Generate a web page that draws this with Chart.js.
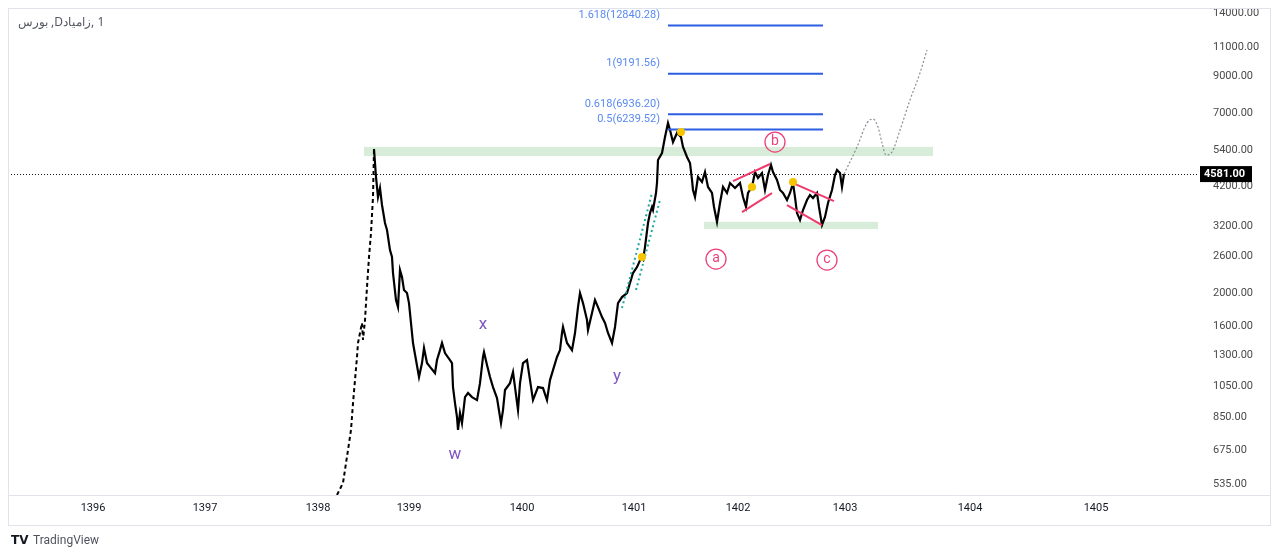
<!DOCTYPE html>
<html lang="fa">
<head>
<meta charset="UTF-8" />
<title>زامیاد 1D</title>
<script src="https://cdn.jsdelivr.net/npm/chart.js"></script>
<style>
  html, body { margin: 0; padding: 0; background: #fff; }
  canvas { display: block; }
</style>
</head>
<body>
<canvas id="chart" width="1280" height="557"></canvas>
<script>
// x = trading session counted from the left edge of the view, y = price (log scale)
const yearLabels = ['1396', '1397', '1398', '1399', '1400', '1401', '1402', '1403', '1404', '1405'];
const yearSessions = [170, 394, 620, 802, 1028, 1252, 1460, 1674, 1924, 2176];
const priceTicks = [14000, 11000, 9000, 7000, 5400, 4200, 3200, 2600, 2000, 1600, 1300, 1050, 850, 675, 535];

// limit-up run of 1398 (gappy bars)
const rallySessions = [658, 670, 680, 686, 690, 698, 700, 708, 710, 714, 718, 722, 726, 730, 732];
const rallyPrices = [495, 538, 676, 777, 936, 1289, 1420, 1631, 1450, 1665, 2093, 2577, 3045, 3907, 5450];

const sessions = [
  732, 736, 740, 744, 748, 754, 758, 764, 768, 770, 776, 780, 784, 788, 792, 798, 802, 806, 810, 816,
  822, 828, 832, 838, 844, 854, 858, 864, 868, 874, 884, 888, 890, 894, 898, 900, 904, 908, 914, 920,
  928, 938, 944, 950, 952, 958, 964, 970, 978, 986, 990, 994, 1004, 1010, 1014, 1020, 1024, 1030, 1038, 1044,
  1050, 1060, 1070, 1078, 1084, 1090, 1098, 1104, 1108, 1110, 1118, 1128, 1134, 1140, 1144, 1150, 1158, 1160, 1168, 1174,
  1180, 1188, 1194, 1200, 1208, 1214, 1220, 1228, 1238, 1244, 1250, 1258, 1266, 1270, 1274, 1280, 1284, 1288, 1290, 1296,
  1298, 1300, 1308, 1314, 1320, 1324, 1330, 1338, 1346, 1350, 1358, 1364, 1368, 1370, 1374, 1380, 1388, 1394, 1400, 1408,
  1412, 1418, 1424, 1430, 1438, 1444, 1454, 1464, 1470, 1476, 1480, 1488, 1494, 1500, 1508, 1514, 1520, 1526, 1530, 1538,
  1544, 1550, 1558, 1564, 1570, 1574, 1578, 1584, 1590, 1598, 1604, 1610, 1618, 1622, 1628, 1634, 1640, 1648, 1654, 1658,
  1664, 1668, 1672
];
const prices = [
  5450, 4489, 3907, 4160, 3697, 3263, 3109, 2705, 2577, 2307, 1912, 1822, 2355, 2244, 2050, 2008, 1873, 1631, 1420, 1262,
  1122, 1236, 1372, 1236, 1203, 1153, 1262, 1352, 1420, 1324, 1262, 1236, 1046, 936, 850, 777, 874, 815, 976, 1004,
  976, 956, 1075, 1289, 1333, 1219, 1122, 1046, 969, 815, 892, 1025, 1075, 1161, 1046, 892, 1075, 1236, 1262, 1098,
  956, 1046, 1039, 956, 1098, 1177, 1289, 1352, 1522, 1587, 1420, 1352, 1522, 1822, 2008, 1873, 1665, 1554, 1747, 1912,
  1822, 1700, 1631, 1522, 1420, 1587, 1873, 1953, 2008, 2153, 2307, 2404, 2559, 2524, 2762, 3263, 3496, 3647, 3570, 4018,
  4306, 5050, 5301, 5923, 6527, 6220, 5721, 6092, 5923, 5527, 5156, 4946, 4397, 4103, 3907, 4489, 4336, 4647, 4189, 4018,
  3647, 3286, 3748, 4189, 4018, 4306, 4160, 4306, 3907, 3647, 4018, 4189, 4647, 4459, 4615, 4103, 4552, 4878, 4647, 4397,
  4103, 4018, 3827, 4018, 4306, 3907, 3496, 3332, 3570, 3827, 3963, 3881, 4018, 3647, 3219, 3402, 3748, 4103, 4552, 4712,
  4615, 4189, 4581
];
const lastPrice = 4581;

const forecastSessions = [1672, 1698, 1718, 1730, 1740, 1748, 1756, 1768, 1784, 1804, 1824, 1838];
const forecastPrices = [4581, 5527, 6526, 6708, 6347, 5681, 5228, 5338, 6216, 7656, 9233, 10830];

const fibLevels = [0.5, 0.618, 1, 1.618];
const fibPrices = [6239.52, 6936.20, 9191.56, 12840.28];
const fibFrom = 1320, fibTo = 1630;

const zoneFrom = [712, 1392];
const zoneTo = [1850, 1740];
const zoneLow = [5190, 3130];
const zoneHigh = [5530, 3290];

const channelSessions = [[1450, 1524], [1468, 1528], [1570, 1652], [1558, 1628]];
const channelPrices = [[4365, 4912], [3521, 4017], [4305, 3799], [3696, 3217]];

const tealSessions = [[1228, 1288], [1256, 1304]];
const tealPrices = [[1809, 4017], [2051, 3827]];

const dotSessions = [1268, 1346, 1488, 1570];
const dotPrices = [2576, 6133, 4188, 4335];

const waveLetters = ['w', 'x', 'y'];
const waveSessions = [894, 950, 1218];
const wavePrices = [653, 1608, 1122];

const circleLetters = ['a', 'b', 'c'];
const circleSessions = [1416, 1534, 1638];
const circlePrices = [2542, 5721, 2524];

const pts = (xs, ys) => xs.map((s, i) => ({ x: s, y: ys[i] }));
const seg = (color, width, dash) => ({
  type: 'line', borderColor: color, borderWidth: width, borderDash: dash || [],
  pointRadius: 0, fill: false, tension: 0
});

const datasets = [];
datasets.push({
  type: 'line', data: pts(dotSessions, dotPrices), showLine: false,
  pointRadius: 4, pointBackgroundColor: '#f7c400', pointBorderWidth: 0
});
fibPrices.forEach(p => datasets.push({ ...seg('#2c5ee0', 2), data: [{ x: fibFrom, y: p }, { x: fibTo, y: p }] }));
channelSessions.forEach((s, i) => datasets.push({ ...seg('#f03a6c', 2), data: pts(s, channelPrices[i]) }));
tealSessions.forEach((s, i) => datasets.push({ ...seg('#1fa89c', 2, [2, 3]), data: pts(s, tealPrices[i]) }));
datasets.push({ ...seg('#8a8d96', 1.2, [2, 2]), cubicInterpolationMode: 'monotone', data: pts(forecastSessions, forecastPrices) });
datasets.push({ ...seg('#000', 2.2), data: pts(sessions, prices) });
datasets.push({ ...seg('#000', 2, [4, 3]), data: pts(rallySessions, rallyPrices) });

const overlay = {
  id: 'overlay',
  beforeDatasetsDraw(chart) {
    const { ctx, scales: { x, y }, chartArea: a } = chart;
    ctx.save();
    ctx.fillStyle = 'rgba(76, 175, 80, 0.22)';
    zoneFrom.forEach((f, i) => {
      const x0 = x.getPixelForValue(f), x1 = x.getPixelForValue(zoneTo[i]);
      const y0 = y.getPixelForValue(zoneHigh[i]), y1 = y.getPixelForValue(zoneLow[i]);
      ctx.fillRect(x0, y0, x1 - x0, y1 - y0);
    });
    const ly = Math.round(y.getPixelForValue(lastPrice)) + 0.5;
    ctx.strokeStyle = '#131722';
    ctx.lineWidth = 1;
    ctx.setLineDash([1, 2]);
    ctx.beginPath();
    ctx.moveTo(a.left, ly);
    ctx.lineTo(a.right, ly);
    ctx.stroke();
    ctx.restore();
  },
  afterDatasetsDraw(chart) {
    const { ctx, scales: { x, y } } = chart;
    ctx.save();
    // fib labels
    ctx.font = '11px Roboto';
    ctx.fillStyle = '#5a8af0';
    ctx.textAlign = 'right';
    ctx.textBaseline = 'middle';
    fibPrices.forEach((p, i) => {
      ctx.fillText(fibLevels[i] + '(' + p.toFixed(2) + ')', x.getPixelForValue(fibFrom) - 8, y.getPixelForValue(p) - 10);
    });
    // wave labels
    ctx.textAlign = 'center';
    ctx.font = '17px Roboto';
    ctx.fillStyle = '#7e57c2';
    waveLetters.forEach((t, i) => {
      ctx.fillText(t, x.getPixelForValue(waveSessions[i]), y.getPixelForValue(wavePrices[i]));
    });
    // circled labels
    ctx.font = '14px Roboto';
    ctx.strokeStyle = '#ec407a';
    ctx.fillStyle = '#ec407a';
    ctx.lineWidth = 1.3;
    circleLetters.forEach((t, i) => {
      const cx = x.getPixelForValue(circleSessions[i]), cy = y.getPixelForValue(circlePrices[i]);
      ctx.beginPath();
      ctx.arc(cx, cy, 10, 0, Math.PI * 2);
      ctx.stroke();
      ctx.fillText(t, cx, cy - 1);
    });
    ctx.restore();
  },
  afterDraw(chart) {
    const { ctx, scales: { y }, chartArea: a } = chart;
    ctx.save();
    ctx.strokeStyle = '#e0e3eb';
    ctx.lineWidth = 1;
    ctx.strokeRect(8.5, 8.5, 1262, 517);
    ctx.beginPath();
    ctx.moveTo(8, a.bottom + 0.5);
    ctx.lineTo(1270, a.bottom + 0.5);
    ctx.stroke();
    // last price tag
    const ly = y.getPixelForValue(lastPrice);
    ctx.fillStyle = '#000';
    ctx.fillRect(a.right + 3, ly - 8, 52, 16);
    ctx.fillStyle = '#fff';
    ctx.font = 'bold 11px Roboto';
    ctx.textBaseline = 'middle';
    ctx.textAlign = 'left';
    ctx.fillText(lastPrice.toFixed(2), a.right + 7, ly + 0.5);
    // title
    ctx.fillStyle = '#555861';
    ctx.font = '12px "Noto Sans", Roboto';
    ctx.fillText('بورس ,Dزامیاد\u200E, 1', 18, 23);
    // watermark
    ctx.fillStyle = '#131722';
    ctx.font = 'bold 12px "DejaVu Sans"';
    ctx.fillText('TV', 11, 541);
    ctx.fillStyle = '#50535e';
    ctx.font = '12px Roboto';
    ctx.fillText('TradingView', 33, 541);
    ctx.restore();
  }
};

new Chart(document.getElementById('chart'), {
  data: { datasets },
  options: {
    responsive: false,
    animation: false,
    layout: { padding: { left: 8, top: 8, right: 10, bottom: 32 } },
    plugins: { legend: { display: false }, tooltip: { enabled: false } },
    scales: {
      x: {
        type: 'linear', min: 0, max: 2378,
        grid: { display: false, drawTicks: false }, border: { display: false },
        afterBuildTicks: s => { s.ticks = yearSessions.map(v => ({ value: v })); },
        afterFit: s => { s.height = 30; s.paddingLeft = 0; s.paddingRight = 0; },
        ticks: {
          autoSkip: false, maxRotation: 0, padding: 7, color: '#131722',
          font: { family: 'Roboto', size: 11 },
          callback: v => yearLabels[yearSessions.indexOf(v)]
        }
      },
      y: {
        type: 'logarithmic', position: 'right', min: 495, max: 14490,
        grid: { display: false, drawTicks: false }, border: { display: false },
        afterBuildTicks: s => { s.ticks = priceTicks.map(v => ({ value: v })); },
        afterFit: s => { s.width = 73; s.paddingTop = 0; s.paddingBottom = 0; },
        ticks: {
          padding: 16, color: '#4a4a4a',
          font: { family: 'Roboto', size: 11 },
          callback: v => Number(v).toFixed(2)
        }
      }
    }
  },
  plugins: [overlay]
});
</script>
</body>
</html>
